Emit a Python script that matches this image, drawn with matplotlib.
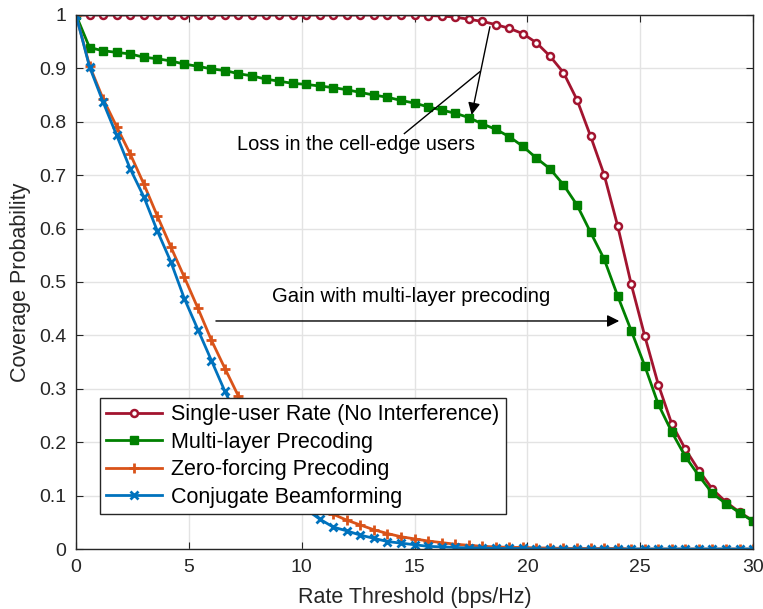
import numpy as np
import matplotlib
matplotlib.use("Agg")
import matplotlib.pyplot as plt

plt.rcParams["font.family"] = ["Liberation Sans", "DejaVu Sans"]

# rate thresholds (bps/Hz), 51 samples from 0 to 30
rate = np.linspace(0, 30, 51)

single_user = [1.0] * 26 + [
    0.999, 0.998, 0.996, 0.992, 0.988, 0.982, 0.975, 0.965, 0.948, 0.923,
    0.892, 0.841, 0.773, 0.701, 0.605, 0.496, 0.399, 0.308, 0.234, 0.187,
    0.147, 0.112, 0.088, 0.069, 0.053,
]
multi_layer = [
    1.0, 0.939, 0.933, 0.930, 0.927, 0.921, 0.918, 0.914, 0.908, 0.904,
    0.899, 0.896, 0.890, 0.886, 0.880, 0.876, 0.872, 0.870, 0.867, 0.864,
    0.860, 0.855, 0.850, 0.846, 0.840, 0.835, 0.828, 0.822, 0.816, 0.808,
    0.796, 0.786, 0.772, 0.754, 0.732, 0.712, 0.682, 0.644, 0.593, 0.543,
    0.474, 0.409, 0.343, 0.271, 0.219, 0.173, 0.137, 0.104, 0.085, 0.068,
    0.052,
]
zero_forcing = [
    1.0, 0.905, 0.843, 0.791, 0.740, 0.684, 0.624, 0.566, 0.509, 0.451,
    0.391, 0.338, 0.286, 0.236, 0.192, 0.155, 0.125, 0.099, 0.080, 0.065,
    0.054, 0.045, 0.036, 0.029, 0.023, 0.019, 0.015, 0.012, 0.009, 0.007,
    0.005, 0.004, 0.003, 0.003, 0.002, 0.002, 0.001, 0.001, 0.001, 0.001,
    0.001, 0.0, 0.0, 0.0, 0.0, 0.0, 0.0, 0.0, 0.0, 0.0,
    0.0,
]
conjugate = [
    1.0, 0.903, 0.837, 0.775, 0.712, 0.660, 0.596, 0.538, 0.469, 0.411,
    0.353, 0.295, 0.243, 0.196, 0.156, 0.123, 0.096, 0.074, 0.056, 0.041,
    0.034, 0.026, 0.020, 0.014, 0.011, 0.008, 0.005, 0.004, 0.003, 0.002,
    0.002, 0.001, 0.001, 0.001, 0.0, 0.0, 0.0, 0.0, 0.0, 0.0,
    0.0, 0.0, 0.0, 0.0, 0.0, 0.0, 0.0, 0.0, 0.0, 0.0,
    0.0,
]

labels = [
    "Single-user Rate (No Interference)",
    "Multi-layer Precoding",
    "Zero-forcing Precoding",
    "Conjugate Beamforming",
]

fig = plt.figure(figsize=(7.63, 6.09), dpi=100)
ax = fig.add_axes([0.0996, 0.0985, 0.8874, 0.8769])

ax.plot(rate, single_user, color="#A2142F", lw=2, marker="o", ms=5,
        mfc="white", mew=1.8, label=labels[0])
ax.plot(rate, multi_layer, color="#008000", lw=2, marker="s", ms=5.5,
        mew=1, label=labels[1])
ax.plot(rate, zero_forcing, color="#D95319", lw=2, marker="+", ms=7,
        mew=2, label=labels[2])
ax.plot(rate, conjugate, color="#0072BD", lw=2, marker="x", ms=5.5,
        mew=2, label=labels[3])

# annotations
ax.annotate("", xy=(17.53, 0.813), xytext=(18.34, 0.978),
            arrowprops=dict(arrowstyle="-|>", color="black", lw=1,
                            mutation_scale=18, shrinkA=0, shrinkB=0))
ax.plot([14.55, 17.9], [0.778, 0.894], color="black", lw=1)
ax.text(7.13, 0.758, "Loss in the cell-edge users", fontsize=14.4,
        va="center", ha="left")

ax.annotate("", xy=(24.07, 0.427), xytext=(6.2, 0.427),
            arrowprops=dict(arrowstyle="-|>", color="black", lw=1,
                            mutation_scale=18, shrinkA=0, shrinkB=0))
ax.text(8.68, 0.472, "Gain with multi-layer precoding", fontsize=14.6,
        va="center", ha="left")

ax.set_xlim(0, 30)
ax.set_ylim(0, 1)
ax.set_xticks(np.arange(0, 31, 5))
ax.set_yticks(np.arange(0, 1.01, 0.1))
ax.set_yticklabels(["0", "0.1", "0.2", "0.3", "0.4", "0.5", "0.6", "0.7",
                    "0.8", "0.9", "1"])
ax.tick_params(direction="in", top=True, right=True, labelsize=14,
               colors="#262626", length=5, pad=7)
ax.grid(True, color="#e3e3e3", lw=1)
ax.set_axisbelow(True)
for s in ax.spines.values():
    s.set_color("#262626")
    s.set_linewidth(1)

ax.set_xlabel("Rate Threshold (bps/Hz)", fontsize=15.5, color="#262626",
              labelpad=8)
ax.set_ylabel("Coverage Probability", fontsize=15.5, color="#262626",
              labelpad=6)

leg = ax.legend(loc="upper left", bbox_to_anchor=(0.0355, 0.283),
                fontsize=15.5, frameon=True, fancybox=False, borderpad=0.3,
                labelspacing=0.3, handlelength=2.6, handletextpad=0.4,
                borderaxespad=0)
leg.get_frame().set_edgecolor("#262626")
leg.get_frame().set_linewidth(1)
leg.get_frame().set_alpha(1)

fig.savefig("out.png", dpi=100)
